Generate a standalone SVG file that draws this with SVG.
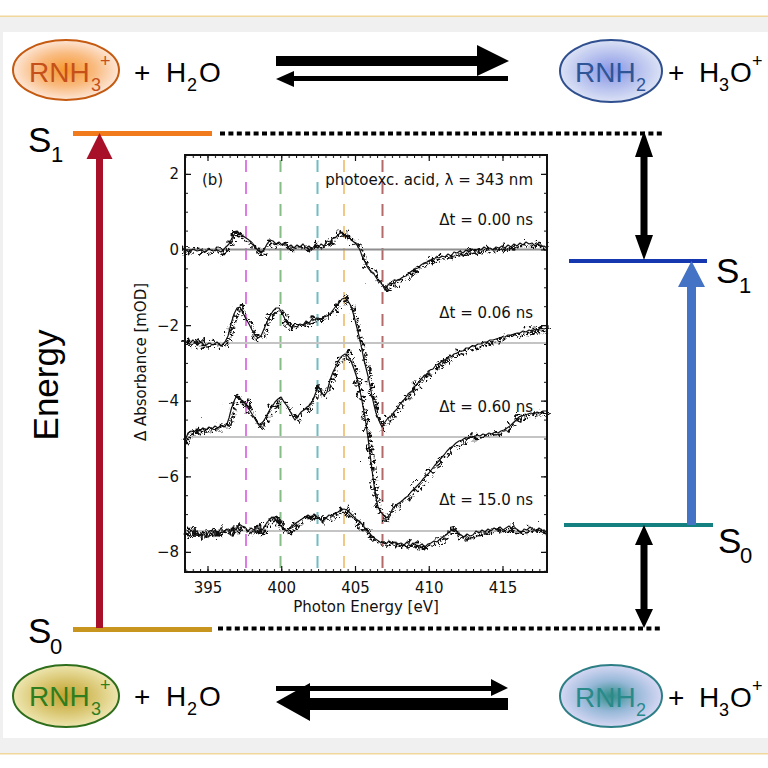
<svg xmlns="http://www.w3.org/2000/svg" xmlns:xlink="http://www.w3.org/1999/xlink" width="768" height="768" viewBox="0 0 768 768">
<style>
.chem{font-family:"Liberation Sans","Noto Sans",sans-serif;font-size:28px}
.sub{font-family:"Liberation Sans","Noto Sans",sans-serif;font-size:18px}
.lvl{font-family:"Liberation Sans","Noto Sans",sans-serif;font-size:35px;fill:#000}
.lvls{font-family:"Liberation Sans","Noto Sans",sans-serif;font-size:22px;fill:#000}
.pt{font-family:"DejaVu Sans",sans-serif;font-size:15px;fill:#111}
.curve{fill:none;stroke:#111;stroke-width:1.2;stroke-linejoin:round}
.dots{fill:none;stroke:#111;stroke-width:2.8;stroke-linecap:round}
.dash{stroke-width:2;stroke-dasharray:12 10;fill:none}
.base{stroke-width:2;fill:none}
.blk{fill:#000}
.dotline{stroke:#000;stroke-width:4;stroke-dasharray:5 3.4;fill:none}
</style>
<defs>
<radialGradient id="gOr" cx="50%" cy="50%" r="50%"><stop offset="0" stop-color="#f7982e"/><stop offset="0.55" stop-color="#f9bb80"/><stop offset="1" stop-color="#fde6d6"/></radialGradient>
<radialGradient id="gBl" cx="50%" cy="50%" r="50%"><stop offset="0" stop-color="#8795e6"/><stop offset="0.55" stop-color="#b6c0ee"/><stop offset="1" stop-color="#dbe2f5"/></radialGradient>
<radialGradient id="gGd" cx="50%" cy="50%" r="50%"><stop offset="0" stop-color="#c2a22e"/><stop offset="0.55" stop-color="#d9c671"/><stop offset="1" stop-color="#eee6b0"/></radialGradient>
<radialGradient id="gTl" cx="50%" cy="50%" r="50%"><stop offset="0" stop-color="#2d8c86"/><stop offset="0.5" stop-color="#97b8d8"/><stop offset="1" stop-color="#d6d8f4"/></radialGradient>
<pattern id="pxm" patternUnits="userSpaceOnUse" x="207.5" y="0" width="7.375" height="10"><rect x="0" y="0" width="1" height="10" fill="#111"/></pattern>
<pattern id="pym" patternUnits="userSpaceOnUse" x="0" y="249.5" width="10" height="18.9"><rect x="0" y="0" width="10" height="1" fill="#111"/></pattern>
<filter id="jit" x="-5%" y="-10%" width="110%" height="120%">
<feTurbulence type="turbulence" baseFrequency="0.09" numOctaves="1" seed="11" result="n"/>
<feDisplacementMap in="SourceGraphic" in2="n" scale="16" xChannelSelector="R" yChannelSelector="G"/>
</filter>
<filter id="jit2" x="-5%" y="-10%" width="110%" height="120%">
<feTurbulence type="turbulence" baseFrequency="0.11" numOctaves="1" seed="3" result="n"/>
<feDisplacementMap in="SourceGraphic" in2="n" scale="14" xChannelSelector="G" yChannelSelector="R"/>
</filter>
<polyline id="cA" points="185,250 189,252 193,249 197,251 201,250 205,252 209,249 213,251 217,250 221,252 225,248 229,244 232,238 235,233 237,231 240,234 243,236 246,238 249,240 252,244 255,247 258,250 261,253 264,250 267,244 270,240 273,241 276,244 279,242 282,245 285,243 288,247 291,245 294,248 297,245 300,247 303,244 306,248 309,246 312,249 315,245 318,248 321,244 324,246 327,241 330,242 333,238 336,237 339,234 342,232 345,236 348,235 351,240 354,242 357,245 360,250 362,256 365,262 368,268 371,272 374,274 377,279 380,281 383,286 385,290 388,285 391,283 394,284 397,280 400,279 403,277 406,276 409,273 412,271 415,269 418,268 421,265 424,263 427,262 430,260 433,261 436,257 439,258 442,256 445,257 448,254 451,256 454,252 457,253 460,251 463,253 466,250 469,252 472,249 475,251 478,249 481,250 484,247 487,249 490,248 493,250 496,247 499,248 502,246 505,248 508,245 511,247 514,244 517,246 520,243 523,245 526,242 529,244 532,243 535,246 538,244 541,247 544,246 547,248"/>
<polyline id="cB" points="185,341 189,344 193,340 197,345 201,342 205,346 209,343 213,345 217,342 221,346 225,342 228,336 231,324 234,314 237,308 240,307 243,313 246,319 249,324 252,330 255,335 258,338 261,336 264,329 267,322 270,316 273,311 276,308 279,308 282,313 285,319 288,324 291,327 294,326 297,327 300,324 303,325 306,321 309,323 312,319 315,320 318,318 321,319 324,317 327,316 330,314 333,310 336,306 339,303 342,299 345,298 348,301 351,306 354,316 357,328 360,340 362,350 364,360 366,368 368,376 370,386 372,396 374,405 376,413 378,418 380,423 382,427 385,422 388,418 391,416 394,412 397,409 400,404 403,401 406,397 409,393 412,391 415,386 418,383 421,379 424,376 427,374 430,370 433,369 436,365 439,364 442,361 445,360 448,357 451,357 454,354 457,353 460,351 463,351 466,348 469,348 472,346 475,346 478,344 481,344 484,342 487,342 490,340 493,340 496,339 499,338 502,337 505,337 508,335 511,335 514,334 517,333 520,333 523,331 526,332 529,330 532,331 535,329 538,330 541,328 544,329 547,328"/>
<polyline id="cC" points="185,441 188,433 191,431 194,432 197,429 200,431 203,428 206,430 209,427 212,429 215,426 218,428 221,425 224,427 227,424 229,418 231,410 233,404 235,399 237,396 240,399 243,402 246,404 249,409 252,414 255,419 258,424 260,427 263,422 266,417 269,411 272,407 275,402 278,399 281,397 284,402 287,406 290,411 293,417 295,420 298,416 301,412 304,410 307,407 310,405 313,400 316,392 318,386 321,391 324,396 327,392 330,380 333,372 336,366 339,360 342,356 345,354 348,356 351,361 354,369 357,378 360,391 362,401 364,412 366,424 368,438 370,454 372,470 374,485 376,498 378,507 381,512 384,516 387,518 390,514 393,508 396,505 399,503 402,501 405,498 408,496 411,492 414,489 417,486 420,483 423,479 426,476 429,473 432,469 435,465 438,462 441,458 444,455 447,451 450,448 453,446 456,443 459,441 462,440 465,438 468,438 471,436 474,437 477,435 480,436 483,434 486,435 489,433 492,434 495,432 498,433 501,431 504,430 507,428 510,426 513,423 516,420 519,417 522,416 525,415 528,414 531,413 534,414 537,412 540,413 543,411 547,411"/>
<polyline id="cD" points="185,532 188,535 191,530 194,534 197,531 200,536 203,532 206,537 209,531 212,535 215,530 218,533 221,528 224,532 227,529 230,533 233,527 236,530 239,524 242,526 245,527 248,531 251,528 254,530 257,526 260,531 263,529 266,524 269,520 272,517 275,519 278,522 281,526 284,529 287,531 290,528 293,526 296,523 299,521 302,519 305,517 308,515 311,518 314,514 317,517 320,519 323,521 326,518 329,515 332,516 335,513 338,512 341,510 344,509 347,510 350,513 353,516 356,519 359,521 362,524 365,528 368,531 371,535 374,538 377,540 380,542 383,543 386,544 389,541 392,543 395,542 398,544 401,543 404,545 407,542 410,546 413,543 416,545 419,546 422,544 425,547 428,544 431,543 434,541 437,542 440,539 443,537 446,535 449,532 452,530 455,529 458,533 461,535 464,537 467,534 470,536 473,535 476,531 479,533 482,530 485,532 488,529 491,531 494,528 497,530 500,527 503,530 506,528 509,526 512,529 515,528 518,530 521,533 524,529 527,530 530,527 533,529 536,531 539,528 542,530 547,532"/>
</defs>

<rect x="0" y="0" width="768" height="768" fill="#ffffff"/>
<g id="frame">
<rect x="0" y="15.5" width="768" height="1.5" fill="#f2d79b"/>
<rect x="0" y="17" width="768" height="15" fill="#f0f0f0"/>
<rect x="0" y="32" width="3" height="706" fill="#f0f0f0"/>
<rect x="0" y="738" width="768" height="15" fill="#f0f0f0"/>
<rect x="0" y="753" width="768" height="1.5" fill="#f2d79b"/>
</g>

<g id="acid-top">
<ellipse cx="66" cy="70" rx="53" ry="30" fill="url(#gOr)" stroke="#c55a11" stroke-width="2"/>
<text class="chem" x="29" y="82" fill="#c5501a">RNH</text>
<text class="sub" x="91" y="91" fill="#c5501a">3</text>
<text class="sub" x="100" y="67" fill="#c5501a">+</text>
<text class="chem" x="134" y="82">+</text>
<text class="chem" x="166" y="82">H</text>
<text class="sub" x="187" y="91">2</text>
<text class="chem" x="199" y="82">O</text>
</g>
<g id="base-top">
<ellipse cx="611" cy="71" rx="51" ry="31" fill="url(#gBl)" stroke="#2f4f8f" stroke-width="2"/>
<text class="chem" x="575" y="82" fill="#2f5597">RNH</text>
<text class="sub" x="636" y="91" fill="#2f5597">2</text>
<text class="chem" x="668" y="82">+</text>
<text class="chem" x="699" y="82">H</text>
<text class="sub" x="719" y="91">3</text>
<text class="chem" x="730" y="82">O</text>
<text class="sub" x="752" y="67">+</text>
</g>
<g id="acid-bottom">
<ellipse cx="66" cy="696" rx="53" ry="31" fill="url(#gGd)" stroke="#2e6e1c" stroke-width="2"/>
<text class="chem" x="29" y="706" fill="#2e7d1e">RNH</text>
<text class="sub" x="91" y="715" fill="#2e7d1e">3</text>
<text class="sub" x="100" y="691" fill="#2e7d1e">+</text>
<text class="chem" x="134" y="706">+</text>
<text class="chem" x="166" y="706">H</text>
<text class="sub" x="187" y="715">2</text>
<text class="chem" x="199" y="706">O</text>
</g>
<g id="base-bottom">
<ellipse cx="611" cy="696" rx="51" ry="31" fill="url(#gTl)" stroke="#2e7e86" stroke-width="2"/>
<text class="chem" x="575" y="707" fill="#2a8a8a">RNH</text>
<text class="sub" x="636" y="716" fill="#2a8a8a">2</text>
<text class="chem" x="668" y="707">+</text>
<text class="chem" x="699" y="707">H</text>
<text class="sub" x="719" y="716">3</text>
<text class="chem" x="730" y="707">O</text>
<text class="sub" x="752" y="692">+</text>
</g>

<g id="acid-S1">
<line x1="73" y1="133.5" x2="212" y2="133.5" stroke="#f07a1c" stroke-width="5"/>
<text class="lvl" x="28" y="152">S</text><text class="lvls" x="51" y="162">1</text>
</g>
<g id="acid-S0">
<line x1="73" y1="629.5" x2="212" y2="629.5" stroke="#c8961f" stroke-width="5"/>
<text class="lvl" x="28" y="643">S</text><text class="lvls" x="50" y="654">0</text>
</g>
<g id="base-S1">
<line x1="569" y1="261" x2="707" y2="261" stroke="#1538b0" stroke-width="4"/>
<text class="lvl" x="716" y="283">S</text><text class="lvls" x="739" y="293">1</text>
</g>
<g id="base-S0">
<line x1="564" y1="525" x2="713" y2="525" stroke="#148080" stroke-width="4"/>
<text class="lvl" x="718" y="553">S</text><text class="lvls" x="740" y="563">0</text>
</g>
<g id="energy-label">
<text class="lvl" transform="translate(58,385) rotate(-90)" text-anchor="middle" font-size="36">Energy</text>
</g>

<g id="connectors">
<line class="dotline" x1="220" y1="133.5" x2="664" y2="133.5"/>
<line class="dotline" x1="218" y1="628.5" x2="662" y2="628.5"/>
<path class="blk" d="M276 56H477V45L509 61L477 76V66H276Z"/>
<path class="blk" d="M508 76H294V71L276 79L294 87V81H508Z"/>
<path class="blk" d="M276 686H491V679L508 688L491 696V691H276Z"/>
<path class="blk" d="M508 698H310V683L276 702L310 721V710H508Z"/>
<path fill="#a8102a" d="M96 628V159H86.5L99.5 133L112.5 159H103V628Z"/>
<path fill="#4472c4" d="M687 525V287H678L691.5 261L705 287H696V525Z"/>
<path class="blk" d="M644 131L653 157H647.5V235H653L644 260L635 235H640.5V157H635Z"/>
<path class="blk" d="M644 525L653 545H647.5V609H653L644 628L635 609H640.5V545H635Z"/>
</g>

<g id="plot">
<rect x="185" y="155" width="362" height="417" fill="#fff"/>
<g class="dash">
<line x1="246" y1="160" x2="246" y2="572" stroke="#e27ae6"/>
<line x1="280.5" y1="160" x2="280.5" y2="572" stroke="#86bd86"/>
<line x1="317.5" y1="160" x2="317.5" y2="572" stroke="#72bcc4"/>
<line x1="344" y1="160" x2="344" y2="572" stroke="#f2c886"/>
<line x1="382.5" y1="160" x2="382.5" y2="572" stroke="#b36a6a"/>
</g>
<g class="base">
<line x1="185" y1="249.5" x2="547" y2="249.5" stroke="#8e8e8e"/>
<line x1="185" y1="343" x2="547" y2="343" stroke="#c4c4c4"/>
<line x1="185" y1="437" x2="547" y2="437" stroke="#c4c4c4"/>
<line x1="185" y1="531" x2="547" y2="531" stroke="#c4c4c4"/>
</g>
<use xlink:href="#cA" class="curve"/>
<use xlink:href="#cB" class="curve"/>
<use xlink:href="#cC" class="curve"/>
<use xlink:href="#cD" class="curve"/>
<g class="dots" filter="url(#jit)">
<use xlink:href="#cA" transform="translate(-4,-4)" stroke-dasharray="0 4.3"/>
<use xlink:href="#cB" transform="translate(-4,-4)" stroke-dasharray="0 4.3"/>
<use xlink:href="#cC" transform="translate(-4,-4)" stroke-dasharray="0 4.3"/>
<use xlink:href="#cD" transform="translate(-4,-4)" stroke-dasharray="0 3.7"/>
</g>
<g class="dots" filter="url(#jit2)">
<use xlink:href="#cA" transform="translate(-3.5,-3.5)" stroke-dasharray="0 5.9"/>
<use xlink:href="#cB" transform="translate(-3.5,-3.5)" stroke-dasharray="0 5.9"/>
<use xlink:href="#cC" transform="translate(-3.5,-3.5)" stroke-dasharray="0 5.9"/>
<use xlink:href="#cD" transform="translate(-3.5,-3.5)" stroke-dasharray="0 5.1"/>
</g>
<rect x="186" y="569" width="360" height="3" fill="url(#pxm)"/>
<rect x="186" y="155" width="360" height="3" fill="url(#pxm)"/>
<rect x="185" y="156" width="3" height="415" fill="url(#pym)"/>
<rect x="544" y="156" width="3" height="415" fill="url(#pym)"/>
<path stroke="#111" stroke-width="1.2" fill="none" d="M208 572v-6M281.75 572v-6M355.5 572v-6M429.25 572v-6M503 572v-6M208 155v6M281.75 155v6M355.5 155v6M429.25 155v6M503 155v6M185 174.4h6M185 250h6M185 325.6h6M185 401.2h6M185 476.8h6M185 552.4h6M547 174.4h-6M547 250h-6M547 325.6h-6M547 401.2h-6M547 476.8h-6M547 552.4h-6"/>
<rect x="185" y="155" width="362" height="417" fill="none" stroke="#111" stroke-width="2"/>
<g class="pt" text-anchor="middle">
<text x="208" y="593">395</text>
<text x="281.75" y="593">400</text>
<text x="355.5" y="593">405</text>
<text x="429.25" y="593">410</text>
<text x="503" y="593">415</text>
<text x="366" y="612">Photon Energy [eV]</text>
<text transform="translate(146,362) rotate(-90)">Δ Absorbance [mOD]</text>
</g>
<g class="pt" text-anchor="end">
<text x="179" y="179.4">2</text>
<text x="179" y="255">0</text>
<text x="179" y="330.6">−2</text>
<text x="179" y="406.2">−4</text>
<text x="179" y="481.8">−6</text>
<text x="179" y="557.4">−8</text>
<text x="533" y="185">photoexc. acid, λ = 343 nm</text>
<text x="533" y="225">Δt = 0.00 ns</text>
<text x="533" y="318">Δt = 0.06 ns</text>
<text x="533" y="412">Δt = 0.60 ns</text>
<text x="533" y="505">Δt = 15.0 ns</text>
</g>
<text class="pt" x="202" y="185">(b)</text>
</g>
</svg>
